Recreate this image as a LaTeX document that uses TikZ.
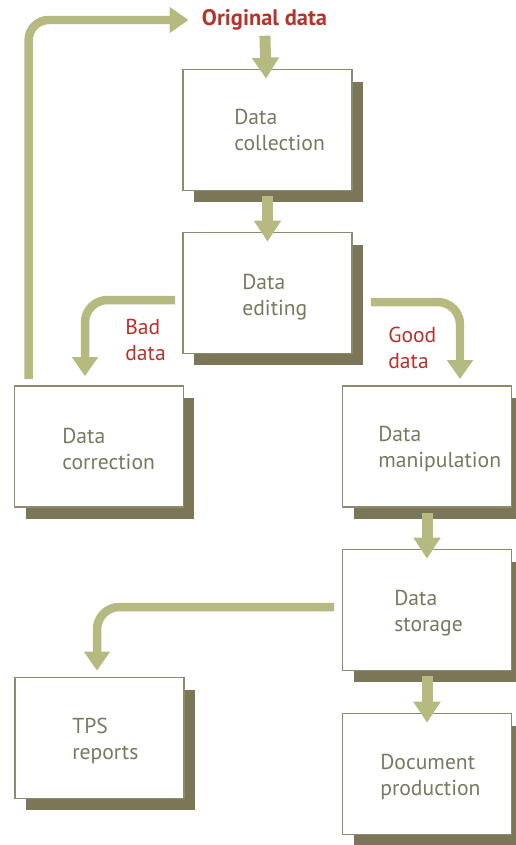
\documentclass[tikz,border=0pt]{standalone}
\usepackage{fontspec}
\setmainfont{PT Sans}
\usetikzlibrary{arrows.meta,shadows}
\definecolor{arw}{HTML}{B6BA80}
\definecolor{brd}{HTML}{8C8B6E}
\definecolor{shd}{HTML}{7A7657}
\definecolor{ink}{HTML}{7A7860}
\definecolor{redtx}{HTML}{B5332A}
\begin{document}
\begin{tikzpicture}[x=0.02cm, y=-0.02cm, font=\fontsize{12.3}{15}\selectfont,
          box/.style={draw=brd, line width=0.035cm, fill=white, minimum width=3.38cm, minimum height=2.42cm,
            general shadow={fill=shd, shadow xshift=0.22cm, shadow yshift=-0.24cm}},
          txt/.style={anchor=west, align=left, text=ink, inner sep=0pt},
          tag/.style={align=left, text=redtx, inner sep=0pt},
          fat/.style={draw=arw, line width=0.22cm, shorten <=0.1cm, shorten >=-0.2cm,
            -{Triangle[width=0.52cm, length=0.42cm]}},
          bentarrow/.style={draw=arw, line width=0.17cm, rounded corners=0.45cm,
            -{Triangle[width=0.5cm, length=0.38cm]}}]
        \useasboundingbox (0,0) rectangle (515,845);
        % boxes
        \foreach \nm/\px/\py in {col/267.5/130, edi/267.5/293, cor/99/446.5, man/427/446.5,
                                 sto/427/610, tps/99.5/738, doc/427/774} {
          \node[box] (\nm) at (\px,\py) {};
        }
        % box texts
        \foreach \nm/\px/\py/\tx in {col/234/130/{Data\\collection}, edi/242/297/{Data\\editing},
                                     cor/62/449/{Data\\correction}, man/378/449/{Data\\manipulation},
                                     sto/394/613/{Data\\storage}, tps/72/741/{TPS\\reports},
                                     doc/380/777/{Document\\production}} {
          \node[txt] (t\nm) at (\px,\py) {\tx};
        }
        % red labels
        \node[tag, font=\fontsize{12.8}{15}\selectfont\bfseries] (orig) at (264.5,20) {Original data};
        \node[tag, anchor=west] (bad) at (125,340) {Bad\\data};
        \node[tag, anchor=west] (good) at (388,348) {Good\\data};
        % straight arrows
        \draw[fat] (orig) -- (col);
        \draw[fat] (col) -- (edi);
        \draw[fat] (man) -- (sto);
        \draw[fat] (sto) -- (doc);
        % bent arrows
        \draw[bentarrow] ([xshift=-0.14cm, yshift=-0.14cm]edi.west) -| ([xshift=-0.28cm, yshift=0.18cm]cor.north);
        \draw[bentarrow] ([xshift=0.36cm, yshift=-0.18cm]edi.east) -| ([xshift=0.66cm, yshift=0.12cm]man.north);
        \draw[bentarrow] ([xshift=-0.15cm, yshift=0.06cm]sto.west) -| ([xshift=-0.05cm, yshift=0.12cm]tps.north);
        \draw[bentarrow, rounded corners=0.4cm, shorten >=0.26cm] ([xshift=0.3cm, yshift=0.12cm]cor.north west) |- (orig.west);
      \end{tikzpicture}
\end{document}
